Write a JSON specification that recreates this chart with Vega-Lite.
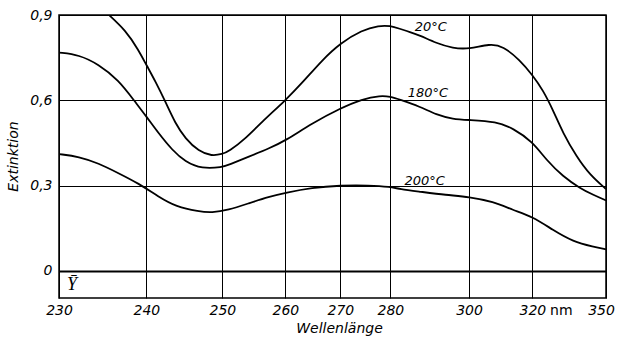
{
  "$schema": "https://vega.github.io/schema/vega-lite/v6.json",
  "width": 547,
  "height": 283,
  "autosize": "none",
  "padding": {"left": 59, "top": 15, "right": 11, "bottom": 43},
  "background": "white",
  "config": {
    "view": {"stroke": "black", "strokeWidth": 1.5},
    "axis": {
      "gridColor": "black",
      "gridOpacity": 1,
      "labelColor": "black",
      "titleColor": "black",
      "labelFont": "DejaVu Sans",
      "titleFont": "DejaVu Sans",
      "labelFontSize": 14,
      "titleFontSize": 14,
      "titleFontWeight": "normal",
      "titleFontStyle": "italic",
      "ticks": false,
      "domain": false,
      "labelFlush": false
    }
  },
  "layer": [
    {
      "data": {"values": [
        {"s": "20", "lam": 230, "v": 1.0},
        {"s": "20", "lam": 232, "v": 0.99},
        {"s": "20", "lam": 234, "v": 0.95},
        {"s": "20", "lam": 235.7, "v": 0.9},
        {"s": "20", "lam": 237.6, "v": 0.847},
        {"s": "20", "lam": 239.1, "v": 0.777},
        {"s": "20", "lam": 240, "v": 0.724},
        {"s": "20", "lam": 241.2, "v": 0.666},
        {"s": "20", "lam": 242.5, "v": 0.595},
        {"s": "20", "lam": 243.8, "v": 0.519},
        {"s": "20", "lam": 245.1, "v": 0.466},
        {"s": "20", "lam": 246.9, "v": 0.42},
        {"s": "20", "lam": 248.6, "v": 0.404},
        {"s": "20", "lam": 250, "v": 0.411},
        {"s": "20", "lam": 251, "v": 0.42},
        {"s": "20", "lam": 253.7, "v": 0.466},
        {"s": "20", "lam": 256.3, "v": 0.525},
        {"s": "20", "lam": 260, "v": 0.6},
        {"s": "20", "lam": 263, "v": 0.66},
        {"s": "20", "lam": 266.7, "v": 0.742},
        {"s": "20", "lam": 270, "v": 0.801},
        {"s": "20", "lam": 274.3, "v": 0.847},
        {"s": "20", "lam": 277.7, "v": 0.863},
        {"s": "20", "lam": 280, "v": 0.862},
        {"s": "20", "lam": 282.3, "v": 0.852},
        {"s": "20", "lam": 285, "v": 0.84},
        {"s": "20", "lam": 287.5, "v": 0.828},
        {"s": "20", "lam": 291.7, "v": 0.801},
        {"s": "20", "lam": 295.9, "v": 0.783},
        {"s": "20", "lam": 300, "v": 0.78},
        {"s": "20", "lam": 306.6, "v": 0.799},
        {"s": "20", "lam": 310.7, "v": 0.791},
        {"s": "20", "lam": 316, "v": 0.742},
        {"s": "20", "lam": 320, "v": 0.689},
        {"s": "20", "lam": 324.3, "v": 0.636},
        {"s": "20", "lam": 328.4, "v": 0.566},
        {"s": "20", "lam": 332.5, "v": 0.484},
        {"s": "20", "lam": 338, "v": 0.402},
        {"s": "20", "lam": 343.4, "v": 0.338},
        {"s": "20", "lam": 350, "v": 0.288},
        {"s": "180", "lam": 230, "v": 0.768},
        {"s": "180", "lam": 232.3, "v": 0.76},
        {"s": "180", "lam": 234.5, "v": 0.727},
        {"s": "180", "lam": 236.8, "v": 0.672},
        {"s": "180", "lam": 238.7, "v": 0.595},
        {"s": "180", "lam": 240, "v": 0.543},
        {"s": "180", "lam": 241.6, "v": 0.484},
        {"s": "180", "lam": 243.4, "v": 0.425},
        {"s": "180", "lam": 245.1, "v": 0.384},
        {"s": "180", "lam": 247.3, "v": 0.359},
        {"s": "180", "lam": 250, "v": 0.365},
        {"s": "180", "lam": 251, "v": 0.373},
        {"s": "180", "lam": 254.2, "v": 0.402},
        {"s": "180", "lam": 257.4, "v": 0.431},
        {"s": "180", "lam": 260, "v": 0.458},
        {"s": "180", "lam": 264.8, "v": 0.519},
        {"s": "180", "lam": 270, "v": 0.572},
        {"s": "180", "lam": 274.3, "v": 0.604},
        {"s": "180", "lam": 278, "v": 0.617},
        {"s": "180", "lam": 280, "v": 0.613},
        {"s": "180", "lam": 282.3, "v": 0.603},
        {"s": "180", "lam": 287.5, "v": 0.578},
        {"s": "180", "lam": 291.7, "v": 0.549},
        {"s": "180", "lam": 295.9, "v": 0.534},
        {"s": "180", "lam": 300, "v": 0.531},
        {"s": "180", "lam": 308.6, "v": 0.525},
        {"s": "180", "lam": 313.9, "v": 0.502},
        {"s": "180", "lam": 320, "v": 0.455},
        {"s": "180", "lam": 325.7, "v": 0.39},
        {"s": "180", "lam": 332.5, "v": 0.332},
        {"s": "180", "lam": 339.4, "v": 0.291},
        {"s": "180", "lam": 344.9, "v": 0.267},
        {"s": "180", "lam": 350, "v": 0.248},
        {"s": "200", "lam": 230, "v": 0.411},
        {"s": "200", "lam": 232.3, "v": 0.402},
        {"s": "200", "lam": 234.5, "v": 0.379},
        {"s": "200", "lam": 236.8, "v": 0.344},
        {"s": "200", "lam": 239.1, "v": 0.308},
        {"s": "200", "lam": 241.6, "v": 0.261},
        {"s": "200", "lam": 243.9, "v": 0.226},
        {"s": "200", "lam": 246.9, "v": 0.209},
        {"s": "200", "lam": 248.6, "v": 0.205},
        {"s": "200", "lam": 250.9, "v": 0.214},
        {"s": "200", "lam": 254.2, "v": 0.238},
        {"s": "200", "lam": 257.4, "v": 0.261},
        {"s": "200", "lam": 260, "v": 0.275},
        {"s": "200", "lam": 264.8, "v": 0.293},
        {"s": "200", "lam": 270, "v": 0.301},
        {"s": "200", "lam": 275.7, "v": 0.301},
        {"s": "200", "lam": 280, "v": 0.296},
        {"s": "200", "lam": 282.3, "v": 0.288},
        {"s": "200", "lam": 287.5, "v": 0.279},
        {"s": "200", "lam": 294.2, "v": 0.267},
        {"s": "200", "lam": 300, "v": 0.261},
        {"s": "200", "lam": 307.6, "v": 0.244},
        {"s": "200", "lam": 313.9, "v": 0.214},
        {"s": "200", "lam": 320, "v": 0.191},
        {"s": "200", "lam": 328.4, "v": 0.144},
        {"s": "200", "lam": 336.6, "v": 0.103},
        {"s": "200", "lam": 344.9, "v": 0.085},
        {"s": "200", "lam": 350, "v": 0.076}
      ]},
      "mark": {"type": "line", "color": "black", "strokeWidth": 1.8, "interpolate": "basis", "clip": true},
      "encoding": {
        "x": {
          "field": "lam", "type": "quantitative",
          "scale": {"domain": [230, 240, 250, 260, 270, 280, 300, 320, 350], "range": [0, 87.4, 163.4, 226.4, 281.4, 331.4, 410, 473.4, 547], "nice": false, "zero": false},
          "axis": {
            "values": [230, 240, 250, 260, 270, 280, 300, 320, 331.6, 350],
            "labelExpr": "datum.value > 331 && datum.value < 332 ? 'nm' : format(datum.value, 'd')",
            "labelFontStyle": {"condition": {"test": "datum.value > 331 && datum.value < 332", "value": "normal"}, "value": "italic"},
            "labelOffset": {"condition": {"test": "datum.value == 350", "value": -5}, "value": 0},
            "gridOpacity": {"condition": {"test": "datum.value > 331 && datum.value < 332", "value": 0}, "value": 1},
            "gridWidth": 1,
            "labelPadding": 5,
            "title": "Wellenlänge",
            "titleX": 280,
            "titleY": 30,
            "titleAlign": "center",
            "titleBaseline": "middle"
          }
        },
        "y": {
          "field": "v", "type": "quantitative",
          "scale": {"domain": [-0.095, 0.9], "nice": false, "zero": false},
          "axis": {
            "values": [0, 0.3, 0.6, 0.9],
            "labelExpr": "datum.value == 0 ? '0' : replace(format(datum.value, '.1f'), '.', ',')",
            "labelFontStyle": "italic",
            "labelPadding": 7,
            "gridWidth": {"condition": {"test": "datum.value == 0", "value": 2}, "value": 1},
            "title": "Extinktion",
            "titleX": -46,
            "titleY": 141,
            "titleAngle": 270,
            "titleAlign": "center",
            "titleBaseline": "middle"
          }
        },
        "detail": {"field": "s", "type": "nominal"}
      }
    },
    {
      "data": {"values": [
        {"lab": "20°C", "lam": 286.2, "v": 0.858},
        {"lab": "180°C", "lam": 284.4, "v": 0.626},
        {"lab": "200°C", "lam": 283.6, "v": 0.316}
      ]},
      "mark": {"type": "text", "align": "left", "baseline": "middle", "font": "DejaVu Sans", "fontStyle": "italic", "fontSize": 13, "color": "black"},
      "encoding": {
        "x": {"field": "lam", "type": "quantitative"},
        "y": {"field": "v", "type": "quantitative"},
        "text": {"field": "lab"}
      }
    },
    {
      "data": {"values": [{"lab": "Ȳ", "lam": 231.5, "v": -0.05}]},
      "mark": {"type": "text", "align": "center", "baseline": "middle", "font": "Liberation Serif", "fontStyle": "italic", "fontSize": 18, "color": "black"},
      "encoding": {
        "x": {"field": "lam", "type": "quantitative"},
        "y": {"field": "v", "type": "quantitative"},
        "text": {"field": "lab"}
      }
    }
  ]
}
